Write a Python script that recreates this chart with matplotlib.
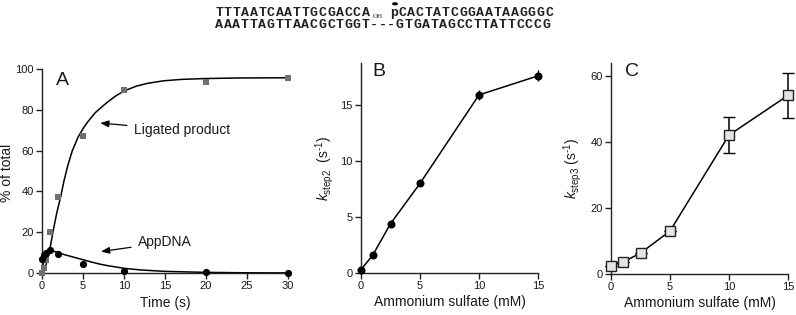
import matplotlib
matplotlib.use("Agg")
import matplotlib.pyplot as plt

plt.rcParams['font.family'] = ['Liberation Sans', 'DejaVu Sans']
plt.rcParams['mathtext.fontset'] = 'custom'
plt.rcParams['mathtext.rm'] = 'Liberation Sans'
plt.rcParams['mathtext.it'] = 'Liberation Sans:italic'
plt.rcParams['mathtext.bf'] = 'Liberation Sans:bold'

# ---------------- data ----------------
# Panel A: time course
time_s = [0, 0.25, 0.5, 1, 2, 5, 10, 20, 30]
ligated_pct = [0, 2.5, 6.5, 20, 37.5, 67.3, 89.5, 93.8, 95.7]
appdna_pct = [7, 9, 10, 11.2, 9.3, 4.6, 1.2, 0.3, 0.2]

# fitted curves
fit_lig_t = [0, 0.2, 0.4, 0.73, 1.0, 1.34, 1.8, 2.28, 2.7, 3.17, 3.7, 4.39, 5.0, 5.6,
             6.5, 7.84, 9.0, 10, 11.5, 12.9, 14.8, 17, 19.7, 24, 30]
fit_lig_v = [0, 0.6, 2.5, 7.9, 12.5, 20.2, 29.5, 37.4, 45.5, 53, 60, 66.5, 70.8, 74.2,
             78.6, 83.3, 86.8, 89.2, 91.6, 93.0, 94.2, 94.9, 95.3, 95.6, 95.7]
fit_app_t = [0, 0.15, 0.3, 0.5, 0.75, 1.1, 1.5, 2.07, 3, 4, 5, 6, 7, 8, 10, 12, 15, 20, 25, 30]
fit_app_v = [0, 4.5, 7.5, 9.4, 10.4, 10.8, 10.6, 9.8, 8.7, 7.6, 6.5, 5.4, 4.4, 3.6, 2.3, 1.5, 0.8, 0.3, 0.1, 0.05]

# Panel B
ammonium_mM = [0, 1, 2.5, 5, 10, 15]
k_step2 = [0.3, 1.6, 4.4, 8.0, 15.9, 17.6]
k_step2_err = [0, 0, 0, 0, 0.45, 0.5]

# Panel C
k_step3 = [2.5, 3.6, 6.3, 13.0, 42.0, 54.0]
k_step3_err = [0, 0, 0, 0, 5.4, 6.7]

# DNA substrate text
top_left = "TTTAATCAATTGCGACCA"
top_right = "CACTATCGGAATAAGGGC"
bottom_strand = "AAATTAGTTAACGCTGGT---GTGATAGCCTTATTCCCG"

# ---------------- figure ----------------
W, H = 796, 315
fig = plt.figure(figsize=(W / 100, H / 100), dpi=100)


def px_axes(l, r, top, bottom):
    return fig.add_axes([l / W, 1 - bottom / H, (r - l) / W, (bottom - top) / H])


TXT = '#1a1a1a'


def style(ax):
    for s in ['top', 'right']:
        ax.spines[s].set_visible(False)
    for s in ['left', 'bottom']:
        ax.spines[s].set_linewidth(1.0)
        ax.spines[s].set_color('#222222')
    ax.tick_params(direction='out', length=4, width=1.0, labelsize=8,
                   colors='#222222', labelcolor=TXT, pad=2)


# Panel A
axA = px_axes(42, 288, 69, 273)
style(axA)
axA.plot(fit_lig_t, fit_lig_v, color='black', lw=1.1, zorder=2, clip_on=False)
axA.plot(fit_app_t, fit_app_v, color='black', lw=1.1, zorder=2, clip_on=False)
axA.plot(time_s, ligated_pct, 's', color='#707070', ms=4.6, mew=0, zorder=3, clip_on=False)
axA.plot(time_s, appdna_pct, 'o', color='black', ms=5.2, mew=0, zorder=4, clip_on=False)
axA.set_xlim(0, 30)
axA.set_ylim(0, 100)
axA.set_xticks(range(0, 31, 5))
axA.set_yticks(range(0, 101, 20))
axA.set_xlabel('Time (s)', fontsize=10, color=TXT)
axA.set_ylabel('% of total', fontsize=10, color=TXT)
axA.xaxis.set_label_coords(0.5, -0.112)
axA.yaxis.set_label_coords(-0.115, 0.49)
axA.text(0.055, 0.985, 'A', transform=axA.transAxes, fontsize=14, va='top', ha='left', color=TXT)
axA.annotate('Ligated product', xy=(7.1, 73.5), xytext=(11.2, 70),
             fontsize=10, color=TXT, va='center', ha='left',
             arrowprops=dict(arrowstyle='-|>,head_length=0.5,head_width=0.2', color='black',
                             lw=0.9, shrinkA=3, shrinkB=0))
axA.annotate('AppDNA', xy=(7.2, 10.5), xytext=(11.7, 15),
             fontsize=10, color=TXT, va='center', ha='left',
             arrowprops=dict(arrowstyle='-|>,head_length=0.5,head_width=0.2', color='black',
                             lw=0.9, shrinkA=3, shrinkB=0))

# Panel B
axB = px_axes(361, 538, 63, 273)
style(axB)
axB.errorbar(ammonium_mM, k_step2, yerr=k_step2_err, fmt='-o', color='black', lw=1.1,
             ms=5.8, mew=0, ecolor='black', elinewidth=1.0, capsize=2.8, capthick=1.0,
             clip_on=False, zorder=3)
axB.set_xlim(0, 15)
axB.set_ylim(0, 18.75)
axB.set_xticks([0, 5, 10, 15])
axB.set_yticks([0, 5, 10, 15])
axB.set_xlabel('Ammonium sulfate (mM)', fontsize=10, color=TXT)
axB.set_ylabel(r'$\mathit{k}_{\mathrm{step2}}$  (s$^{\text{-}1}$)', fontsize=10, color=TXT)
axB.xaxis.set_label_coords(0.5, -0.105)
axB.yaxis.set_label_coords(-0.14, 0.5)
axB.text(0.065, 1.0, 'B', transform=axB.transAxes, fontsize=14, va='top', ha='left', color=TXT)

# Panel C
axC = px_axes(611, 788, 63, 274)
style(axC)
axC.errorbar(ammonium_mM, k_step3, yerr=k_step3_err, fmt='-s', color='black', lw=1.1,
             ms=6.6, mfc='#e4e4e4', mec='#222222', mew=1.0, ecolor='black',
             elinewidth=1.1, capsize=4, capthick=1.1, clip_on=False, zorder=3)
axC.set_xlim(0, 15)
axC.set_ylim(0, 63.8)
axC.set_xticks([0, 5, 10, 15])
axC.set_yticks([0, 20, 40, 60])
axC.set_xlabel('Ammonium sulfate (mM)', fontsize=10, color=TXT)
axC.set_ylabel(r'$\mathit{k}_{\mathrm{step3}}$ (s$^{\text{-}1}$)', fontsize=10, color=TXT)
axC.xaxis.set_label_coords(0.5, -0.105)
axC.yaxis.set_label_coords(-0.15, 0.5)
axC.text(0.08, 1.0, 'C', transform=axC.transAxes, fontsize=14, va='top', ha='left', color=TXT)

# DNA sequence at the top (per-character placement, monospaced)
dna_font = dict(family='Liberation Mono', fontsize=9.5, weight='bold', color='#222222',
                ha='center', va='baseline')
pitch = 8.6


def put(x, y, s, **kw):
    fig.text(x / W, 1 - y / H, s, **kw)


x0 = 215
for i, ch in enumerate(top_left):
    put(x0 + pitch * (i + 0.5), 16, ch, **dna_font)
put(372.5, 18.5, 'OH', family='Liberation Serif', fontsize=5, color='#222222',
    ha='left', va='baseline')
put(394, 16, 'p', **dna_font)
fig.patches.append(matplotlib.patches.Circle((395 / W, 1 - 3.8 / H), 2.2 / W,
                                             transform=fig.transFigure, color='black'))
x1 = 398.5
for i, ch in enumerate(top_right):
    put(x1 + pitch * (i + 0.5), 16, ch, **dna_font)
for i, ch in enumerate(bottom_strand):
    put(x0 + pitch * (i + 0.5), 27.5, ch, **dna_font)

fig.savefig('out.png', dpi=100)
